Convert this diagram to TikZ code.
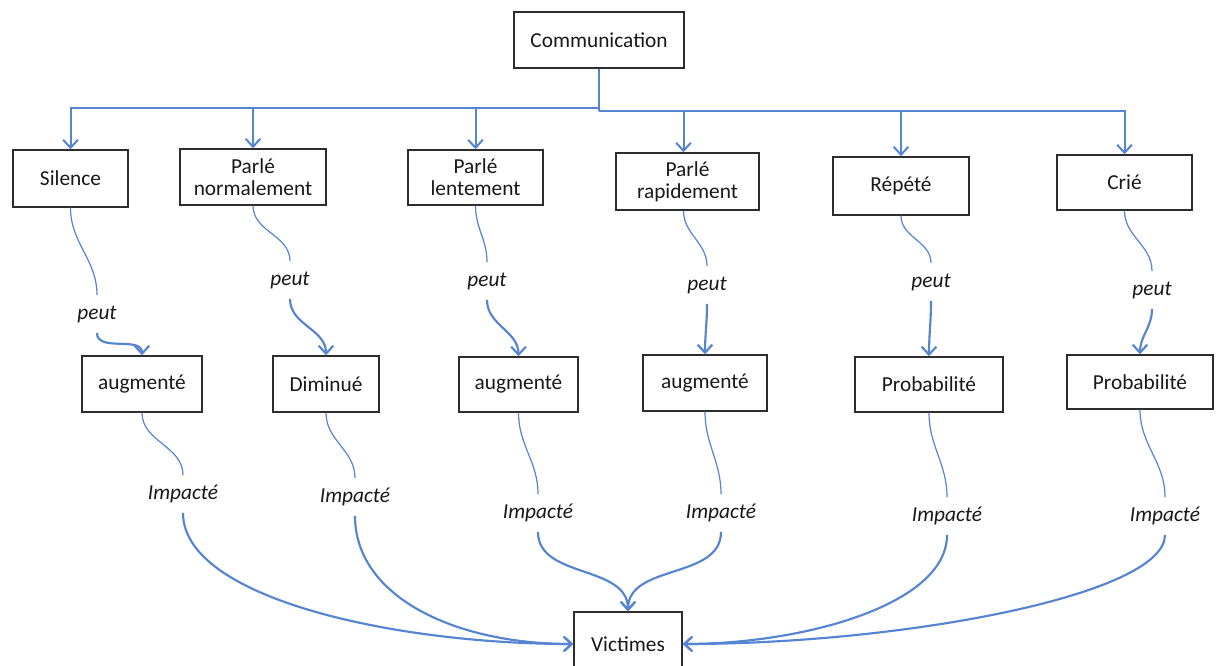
\documentclass[tikz,border=0pt]{standalone}
\usepackage{fontspec}
\setmainfont{Carlito}
\usetikzlibrary{arrows.meta}
\definecolor{lnk}{RGB}{84,132,210}
\definecolor{bord}{RGB}{45,45,45}
\definecolor{txt}{RGB}{25,25,25}
\begin{document}
\begin{tikzpicture}[x=0.75pt,y=-0.75pt,
  font=\fontsize{16}{16.5}\selectfont,
  box/.style={draw=bord, line width=1.1pt, fill=white, align=center, inner sep=0pt, text=txt},
  tree/.style={draw=lnk, line width=1.5pt},
  tip/.style={-{Straight Barb[length=6pt,width=11pt]}},
  thinlk/.style={draw=lnk, line width=0.9pt},
  thicklk/.style={draw=lnk, line width=1.6pt},
  lbl/.style={font=\fontsize{16}{16.5}\selectfont\itshape, text=txt, inner sep=0pt, minimum height=28pt}]
\clip (0,0) rectangle (1216,666);
\fill[white] (0,0) rectangle (1216,666);

% top
\node[box, minimum width=127.5pt, minimum height=42pt] (comm) at (599,40) {Communication};

% first row
\node[box, minimum width=86.25pt, minimum height=42.75pt] (sil) at (70.5,178.5) {\raisebox{-2pt}{Silence}};
\node[box, minimum width=109.5pt, minimum height=42pt] (norm) at (253,177) {Parlé\\normalement};
\node[box, minimum width=101.25pt, minimum height=41.25pt] (lent) at (475.5,177.5) {Parlé\\lentement};
\node[box, minimum width=107.25pt, minimum height=42.75pt] (rap) at (687.5,181.5) {Parlé\\rapidement};
\node[box, minimum width=102pt, minimum height=43.5pt] (rep) at (901,186) {\raisebox{-2pt}{Répété}};
\node[box, minimum width=101.25pt, minimum height=41.25pt] (crie) at (1124.5,182.5) {Crié};

% second row
\node[box, minimum width=90pt, minimum height=42pt] (aug1) at (142,384) {\raisebox{-2pt}{augmenté}};
\node[box, minimum width=79.5pt, minimum height=42pt] (dim) at (326,384) {Diminué};
\node[box, minimum width=89.25pt, minimum height=41.25pt] (aug2) at (518.5,384.5) {\raisebox{-2pt}{augmenté}};
\node[box, minimum width=93pt, minimum height=42pt] (aug3) at (705,383) {\raisebox{-2pt}{augmenté}};
\node[box, minimum width=111pt, minimum height=41.25pt] (prob1) at (929,384.5) {\raisebox{-2pt}{Probabilité}};
\node[box, minimum width=109.5pt, minimum height=40.5pt] (prob2) at (1140,382) {Probabilité};

% bottom
\node[box, minimum width=81pt, minimum height=48pt] (vic) at (628,644) {Victimes};

% labels
\node[lbl] (p1) at (97,314) {peut};
\node[lbl] (p2) at (290,280) {peut};
\node[lbl] (p3) at (487,281) {peut};
\node[lbl] (p4) at (707,285) {peut};
\node[lbl] (p5) at (931,282) {peut};
\node[lbl] (p6) at (1152,290) {peut};

\node[lbl] (i1) at (183,494) {Impacté};
\node[lbl] (i2) at (355,497) {Impacté};
\node[lbl] (i3) at (538,513) {Impacté};
\node[lbl] (i4) at (721,513) {Impacté};
\node[lbl] (i5) at (947,516) {Impacté};
\node[lbl] (i6) at (1165,516) {Impacté};

% tree
\coordinate (jl) at (599,108);
\coordinate (jr) at (599,111);
\draw[tree] (comm.south) -- (jr);
\draw[tree,tip] (comm.south |- jl) -| (sil.north);
\draw[tree,tip] (comm.south |- jl) -| (norm.north);
\draw[tree,tip] (comm.south |- jl) -| (lent.north);
\draw[tree,tip] (jr) -| ([xshift=-3pt]rap.north);
\draw[tree,tip] (jr) -| (rep.north);
\draw[tree,tip] (jr) -| (crie.north);

% peut connectors
\draw[thinlk] (sil.south) to[out=-90,in=90] (p1.north);
\draw[thicklk,tip] (p1.south) to[out=-90,in=90] (aug1.north);
\draw[thinlk] (norm.south) to[out=-90,in=90] (p2.north);
\draw[thicklk,tip] (p2.south) to[out=-90,in=90] (dim.north);
\draw[thinlk] (lent.south) to[out=-90,in=90] (p3.north);
\draw[thicklk,tip] (p3.south) to[out=-90,in=90] (aug2.north);
\draw[thinlk] ([xshift=-3pt]rap.south) to[out=-90,in=90] (p4.north);
\draw[thicklk,tip] (p4.south) to[out=-90,in=90] (aug3.north);
\draw[thinlk] (rep.south) to[out=-90,in=90] (p5.north);
\draw[thicklk,tip] (p5.south) to[out=-90,in=90] (prob1.north);
\draw[thinlk] (crie.south) to[out=-90,in=90] (p6.north);
\draw[thicklk,tip] (p6.south) to[out=-90,in=90] (prob2.north);

% impacte connectors
\draw[thinlk] (aug1.south) to[out=-90,in=90] (i1.north);
\draw[thicklk,tip] (i1.south) .. controls +(0,85) and +(-180,0) .. (vic.west);
\draw[thinlk] (dim.south) to[out=-90,in=90] (i2.north);
\draw[thicklk,tip] (i2.south) .. controls +(0,80) and +(-120,0) .. (vic.west);
\draw[thinlk] (aug2.south) to[out=-90,in=90] (i3.north);
\draw[thicklk,tip] (i3.south) to[out=-90,in=90] (vic.north);
\draw[thinlk] (aug3.south) to[out=-90,in=90] (i4.north);
\draw[thicklk,tip] (i4.south) to[out=-90,in=90] (vic.north);
\draw[thinlk] (prob1.south) to[out=-90,in=90] (i5.north);
\draw[thicklk,tip] (i5.south) .. controls +(0,70) and +(120,0) .. (vic.east);
\draw[thinlk] (prob2.south) to[out=-90,in=90] (i6.north);
\draw[thicklk,tip] (i6.south) .. controls +(0,60) and +(220,0) .. (vic.east);
\end{tikzpicture}
\end{document}
